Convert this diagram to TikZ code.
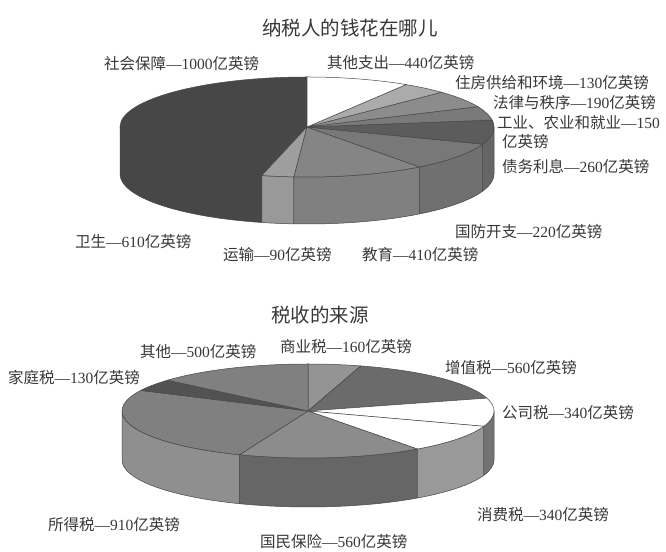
\documentclass[tikz,border=0pt]{standalone}
\usepackage{fontspec}
\setmainfont{Liberation Serif}
\newfontfamily\cjk{Noto Sans CJK SC}
\newcommand{\PTop}[7]{\filldraw[edge,fill=#7] (#1pt,#2pt) -- ++(#5:#3pt and #4pt) arc[start angle=#5,end angle=#6,x radius=#3pt,y radius=#4pt] -- cycle;}
\newcommand{\PSide}[8]{\filldraw[edge,fill=#8] (#1pt,#2pt) ++(#6:#3pt and #4pt) arc[start angle=#6,end angle=#7,x radius=#3pt,y radius=#4pt] -- ++(0pt,-#5pt) arc[start angle=#7,end angle=#6,x radius=#3pt,y radius=#4pt] -- cycle;}
\begin{document}
\begin{tikzpicture}[x=1pt,y=1pt,
  edge/.style={draw=black!72,line width=0.5pt,line join=round},
  lab/.style={font=\fontsize{15.5}{18}\selectfont,text=black!78,inner sep=0pt,anchor=west},
  ttl/.style={font=\fontsize{19.5}{22}\selectfont,text=black!78,inner sep=0pt}]
\useasboundingbox (0,0) rectangle (666,551);
\fill[white] (0,0) rectangle (666,551);
% ---------- top pie ----------
\PSide{307}{424}{187}{50}{47}{180}{256}{black!72}
\PSide{307}{424}{187}{50}{47}{256}{266}{black!40}
\PSide{307}{424}{187}{50}{47}{266}{307}{black!50}
\PSide{307}{424}{187}{50}{47}{307}{340}{black!56}
\PSide{307}{424}{187}{50}{47}{340}{360}{black!60}
\PTop{307}{424}{187}{50}{90}{256}{black!72}
\PTop{307}{424}{187}{50}{256}{266}{black!38}
\PTop{307}{424}{187}{50}{266}{307}{black!48}
\PTop{307}{424}{187}{50}{307}{340}{black!53}
\PTop{307}{424}{187}{50}{-20}{8}{black!64}
\PTop{307}{424}{187}{50}{8}{24}{black!52}
\PTop{307}{424}{187}{50}{24}{44}{black!45}
\PTop{307}{424}{187}{50}{44}{58}{black!33}
\PTop{307}{424}{187}{50}{58}{90}{white}
% ---------- bottom pie ----------
\PSide{308}{140}{186}{47}{49}{180}{248.4}{black!44}
\PSide{308}{140}{186}{47}{49}{248.4}{306}{black!60}
\PSide{308}{140}{186}{47}{49}{306}{341}{black!40}
\PSide{308}{140}{186}{47}{49}{341}{360}{black!55}
\PTop{308}{140}{186}{47}{73.5}{90}{black!42}
\PTop{308}{140}{186}{47}{15.9}{73.5}{black!58}
\PTop{308}{140}{186}{47}{-19}{15.9}{white}
\PTop{308}{140}{186}{47}{-54}{-19}{white}
\PTop{308}{140}{186}{47}{248.4}{306}{black!45}
\PTop{308}{140}{186}{47}{154}{248.4}{black!50}
\PTop{308}{140}{186}{47}{139}{154}{black!68}
\PTop{308}{140}{186}{47}{90}{139}{black!50}
% ---------- titles ----------
\node[ttl] (t1) at (350,523) {\cjk 纳税人的钱花在哪儿};
\node[ttl] (t2) at (320,236) {\cjk 税收的来源};
% ---------- top labels ----------
\node[lab] (a1) at (104,487) {{\cjk 社会保障}—1000{\cjk 亿英镑}};
\node[lab] (a2) at (327,488) {{\cjk 其他支出}—440{\cjk 亿英镑}};
\node[lab] (a3) at (455,468) {{\cjk 住房供给和环境}—130{\cjk 亿英镑}};
\node[lab] (a4) at (493,448) {{\cjk 法律与秩序}—190{\cjk 亿英镑}};
\node[lab] (a5) at (497,428) {{\cjk 工业、农业和就业}—150};
\node[lab] (a6) at (502,409) {\cjk 亿英镑};
\node[lab] (a7) at (502,384) {{\cjk 债务利息}—260{\cjk 亿英镑}};
\node[lab] (a8) at (455,319) {{\cjk 国防开支}—220{\cjk 亿英镑}};
\node[lab] (a9) at (362,296) {{\cjk 教育}—410{\cjk 亿英镑}};
\node[lab] (a10) at (223,296) {{\cjk 运输}—90{\cjk 亿英镑}};
\node[lab] (a11) at (75,309) {{\cjk 卫生}—610{\cjk 亿英镑}};
% ---------- bottom labels ----------
\node[lab] (b1) at (140,199) {{\cjk 其他}—500{\cjk 亿英镑}};
\node[lab] (b2) at (8,173) {{\cjk 家庭税}—130{\cjk 亿英镑}};
\node[lab] (b3) at (280,204) {{\cjk 商业税}—160{\cjk 亿英镑}};
\node[lab] (b4) at (445,183) {{\cjk 增值税}—560{\cjk 亿英镑}};
\node[lab] (b5) at (502,138) {{\cjk 公司税}—340{\cjk 亿英镑}};
\node[lab] (b6) at (477,36) {{\cjk 消费税}—340{\cjk 亿英镑}};
\node[lab] (b7) at (260,9) {{\cjk 国民保险}—560{\cjk 亿英镑}};
\node[lab] (b8) at (48,26) {{\cjk 所得税}—910{\cjk 亿英镑}};
\end{tikzpicture}
\end{document}
